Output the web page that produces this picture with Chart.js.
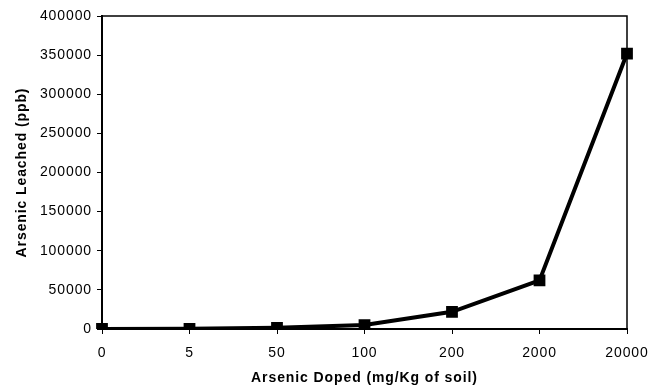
<!DOCTYPE html>
<html>
<head>
<meta charset="utf-8">
<script src="https://cdn.jsdelivr.net/npm/chart.js@4/dist/chart.umd.min.js"></script>
<style>
  html, body { margin: 0; padding: 0; background: #fff; }
  #wrap { width: 649px; height: 387px; }
</style>
</head>
<body>
<div id="wrap"><canvas id="chart"></canvas></div>
<script>
// arsenic doped into soil (mg/Kg) vs arsenic leached (ppb)
const dopedLevels = ['0', '5', '50', '100', '200', '2000', '20000'];
const leachedPpb = [0, 200, 1500, 5000, 22000, 62000, 352000];
const yTicks = [0, 50000, 100000, 150000, 200000, 250000, 300000, 350000, 400000];

// wide-set lettering for all axis text
const spacing = {
  id: 'spacing',
  beforeDraw(chart) { chart.ctx.letterSpacing = '0.9px'; }
};

// thin frame along the top and right of the plot area
const frame = {
  id: 'frame',
  afterDraw(chart) {
    const { ctx, chartArea: a } = chart;
    ctx.save();
    ctx.strokeStyle = '#000';
    ctx.lineWidth = 1.5;
    ctx.beginPath();
    ctx.moveTo(a.left, a.top);
    ctx.lineTo(a.right, a.top);
    ctx.lineTo(a.right, a.bottom);
    ctx.stroke();
    ctx.restore();
  }
};

const font = { family: 'Liberation Sans, Arial, sans-serif', size: 14 };
const titleFont = { family: 'Liberation Sans, Arial, sans-serif', size: 14, weight: 'bold' };

new Chart(document.getElementById('chart'), {
  type: 'line',
  data: {
    labels: dopedLevels,
    datasets: [{
      data: leachedPpb,
      borderColor: '#000',
      backgroundColor: '#000',
      borderWidth: 4,
      pointStyle: 'rect',
      pointRadius: 5.5,
      pointHoverRadius: 5.5,
      tension: 0
    }]
  },
  options: {
    responsive: true,
    maintainAspectRatio: false,
    animation: false,
    layout: { padding: { top: 16, right: 0, left: 14, bottom: 0 } },
    plugins: { legend: { display: false }, tooltip: { enabled: false } },
    scales: {
      x: {
        type: 'category',
        offset: false,
        border: { color: '#000', width: 2 },
        grid: { drawOnChartArea: false, color: '#000', tickLength: 5 },
        ticks: { color: '#000', font, padding: 11, maxRotation: 0 },
        afterFit(scale) { scale.height = 58; scale.paddingRight = 22; },
        title: {
          display: true,
          text: 'Arsenic Doped (mg/Kg of soil)',
          color: '#000',
          font: titleFont,
          padding: { top: 5, bottom: 0 }
        }
      },
      y: {
        min: 0,
        max: 400000,
        border: { color: '#000', width: 2 },
        grid: { drawOnChartArea: false, color: '#000', tickLength: 5 },
        afterBuildTicks(scale) { scale.ticks = yTicks.map(v => ({ value: v })); },
        ticks: { color: '#000', font, padding: 5, callback: v => String(v) },
        afterFit(scale) { scale.width = 88; },
        title: {
          display: true,
          text: 'Arsenic Leached (ppb)',
          color: '#000',
          font: titleFont,
          padding: { top: 0, bottom: 4 }
        }
      }
    }
  },
  plugins: [spacing, frame]
});
</script>
</body>
</html>
